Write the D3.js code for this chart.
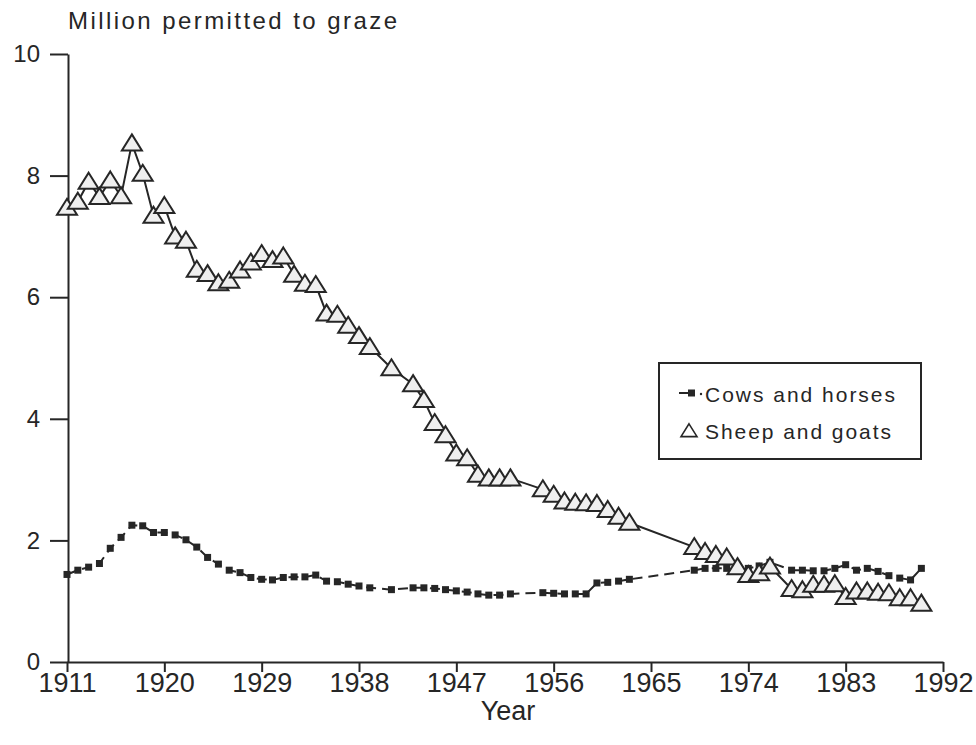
<!DOCTYPE html>
<html>
<head>
<meta charset="utf-8">
<script src="https://cdn.jsdelivr.net/npm/d3@7"></script>
<style>
  body { margin: 0; background: #fff; }
  text { fill: #262626; font-family: "Liberation Sans", Arial, sans-serif; }
  .axis path, .axis line { stroke: #262626; stroke-width: 2; }
  .xaxis text { font-family: "Liberation Sans Narrow", "Liberation Sans", Arial, sans-serif; font-size: 27px; }
  .yaxis text { font-size: 24px; }
</style>
</head>
<body>
<div id="chart"></div>
<script>
// data
var sheepYears = [1911,1912,1913,1914,1915,1916,1917,1918,1919,1920,1921,1922,1923,1924,1925,1926,1927,1928,1929,1930,
  1931,1932,1933,1934,1935,1936,1937,1938,1939,1941,1943,1944,1945,1946,1947,1948,1949,1950,1951,1952,
  1955,1956,1957,1958,1959,1960,1961,1962,1963,1969,1970,1971,1972,1973,1974,1975,1976,
  1978,1979,1980,1981,1982,1983,1984,1985,1986,1987,1988,1989,1990];
var sheepValues = [7.47,7.57,7.90,7.65,7.92,7.66,8.53,8.03,7.34,7.50,7.00,6.93,6.45,6.38,6.23,6.27,6.44,6.57,6.71,6.61,
  6.67,6.37,6.22,6.20,5.73,5.71,5.53,5.36,5.18,4.83,4.57,4.31,3.93,3.73,3.43,3.35,3.08,3.02,3.02,3.02,
  2.84,2.75,2.64,2.62,2.61,2.60,2.50,2.39,2.29,1.89,1.81,1.76,1.72,1.56,1.43,1.46,1.57,
  1.20,1.18,1.27,1.27,1.28,1.07,1.16,1.16,1.14,1.13,1.05,1.05,0.96];

var cowYears = sheepYears;
var cowValues = [1.44,1.51,1.56,1.62,1.87,2.05,2.25,2.24,2.13,2.13,2.09,2.01,1.89,1.72,1.61,1.51,1.47,1.39,1.36,1.35,
  1.39,1.40,1.40,1.43,1.33,1.32,1.28,1.25,1.22,1.19,1.22,1.22,1.21,1.19,1.17,1.15,1.12,1.10,1.10,1.12,
  1.14,1.13,1.12,1.12,1.12,1.30,1.31,1.33,1.36,1.51,1.54,1.54,1.54,1.51,1.54,1.58,1.64,
  1.51,1.51,1.50,1.50,1.54,1.60,1.51,1.54,1.49,1.42,1.38,1.35,1.54];

var xTicks = [1911,1920,1929,1938,1947,1956,1965,1974,1983,1992];
var yTicks = [0,2,4,6,8,10];
var seriesNames = ["Cows and horses", "Sheep and goats"];

var svgWidth = 976;
var svgHeight = 745;

var svg = d3.select("#chart")
  .append("svg")
  .attr("width", svgWidth)
  .attr("height", svgHeight);

var x = d3.scaleLinear().domain([1911, 1992]).range([67, 943]);
var y = d3.scaleLinear().domain([0, 10]).range([662, 54]);

// axes
svg.append("g")
  .attr("class", "axis xaxis")
  .attr("transform", "translate(0,662)")
  .call(d3.axisBottom(x).tickValues(xTicks).tickFormat(d3.format("d")).tickSize(10).tickSizeOuter(0).tickPadding(1));

svg.append("g")
  .attr("class", "axis yaxis")
  .attr("transform", "translate(68,0)")
  .call(d3.axisLeft(y).tickValues(yTicks).tickSize(18).tickSizeOuter(0).tickPadding(10));

svg.append("text")
  .attr("x", 68)
  .attr("y", 29)
  .attr("font-size", 24)
  .attr("textLength", 329)
  .attr("lengthAdjust", "spacing")
  .text("Million permitted to graze");

svg.append("text")
  .attr("x", 508)
  .attr("y", 720)
  .attr("text-anchor", "middle")
  .style("font-family", "'Liberation Sans Narrow', 'Liberation Sans', Arial, sans-serif")
  .attr("font-size", 27)
  .text("Year");

// cows and horses: dashed line with small squares
var cows = cowYears.map(function(d, i) { return {year: d, value: cowValues[i]}; });
var sheep = sheepYears.map(function(d, i) { return {year: d, value: sheepValues[i]}; });

var line = d3.line()
  .x(d => x(d.year))
  .y(d => y(d.value));

svg.append("path")
  .datum(cows)
  .attr("d", line)
  .attr("fill", "none")
  .attr("stroke", "#262626")
  .attr("stroke-width", 2)
  .attr("stroke-dasharray", "10,6");

svg.selectAll(".cow")
  .data(cows)
  .enter()
  .append("rect")
  .attr("class", "cow")
  .attr("x", d => x(d.year) - 3.5)
  .attr("y", d => y(d.value) - 3.5)
  .attr("width", 7)
  .attr("height", 7)
  .attr("fill", "#262626");

// sheep and goats: solid line with open triangles
svg.append("path")
  .datum(sheep)
  .attr("d", line)
  .attr("fill", "none")
  .attr("stroke", "#262626")
  .attr("stroke-width", 2);

var tri = "M0,-9L10,7L-10,7Z";

svg.selectAll(".sheep")
  .data(sheep)
  .enter()
  .append("path")
  .attr("class", "sheep")
  .attr("d", tri)
  .attr("transform", d => `translate(${x(d.year)},${y(d.value)})`)
  .attr("fill", "#efefef")
  .attr("stroke", "#262626")
  .attr("stroke-width", 2);

// legend
var legend = svg.append("g");

legend.append("rect")
  .attr("x", 659)
  .attr("y", 363)
  .attr("width", 262)
  .attr("height", 96)
  .attr("fill", "#fff")
  .attr("stroke", "#262626")
  .attr("stroke-width", 2);

legend.append("line")
  .attr("x1", 679).attr("x2", 689)
  .attr("y1", 393).attr("y2", 393)
  .attr("stroke", "#262626")
  .attr("stroke-width", 2);
legend.append("rect")
  .attr("x", 688).attr("y", 389.5)
  .attr("width", 7).attr("height", 7)
  .attr("fill", "#262626");
legend.append("circle")
  .attr("cx", 701).attr("cy", 394).attr("r", 1.2)
  .attr("fill", "#262626");

legend.append("path")
  .attr("d", tri)
  .attr("transform", "translate(689,431) scale(0.8)")
  .attr("fill", "#fff")
  .attr("stroke", "#262626")
  .attr("stroke-width", 2);

legend.selectAll(".legtext")
  .data(seriesNames)
  .enter()
  .append("text")
  .attr("class", "legtext")
  .attr("x", 705)
  .attr("y", (d, i) => 402 + i * 37)
  .attr("font-size", 21)
  .attr("textLength", (d, i) => i == 0 ? 190 : 186)
  .attr("lengthAdjust", "spacing")
  .text(d => d);
</script>
</body>
</html>
